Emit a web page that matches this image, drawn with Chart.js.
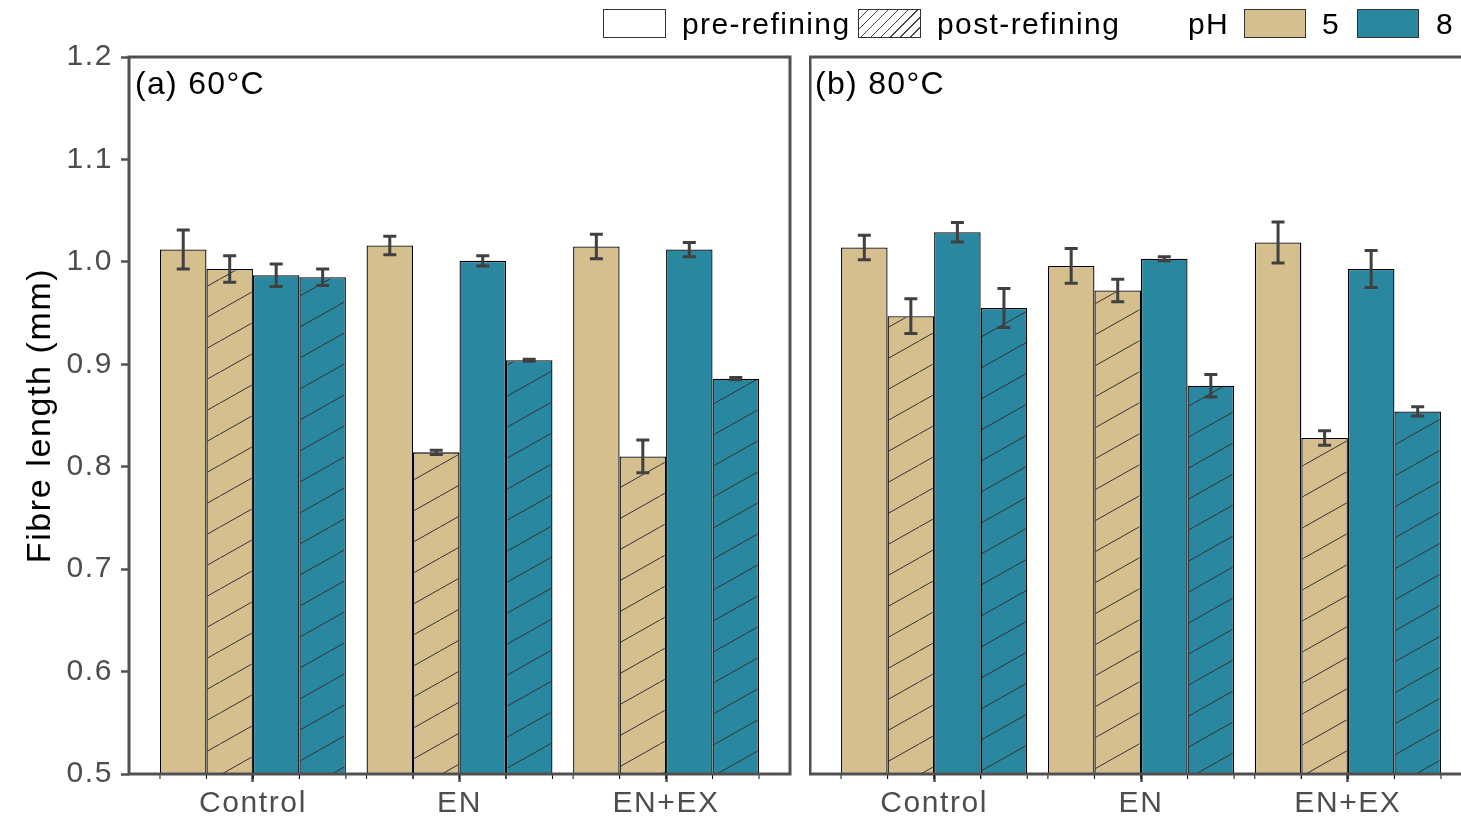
<!DOCTYPE html>
<html>
<head>
<meta charset="utf-8">
<script src="https://cdn.jsdelivr.net/npm/chart.js@4.4.1/dist/chart.umd.min.js"></script>
<style>
  html, body { margin: 0; padding: 0; width: 1461px; height: 817px; overflow: hidden; background: #fff; }
  body { position: relative; font-family: "Liberation Sans", Arial, sans-serif; }
  #wa { position: absolute; left: 0; top: 0; width: 792px; height: 817px; }
  #wb { position: absolute; left: 809px; top: 0; width: 664px; height: 817px; }
  .lbl { position: absolute; font-size: 32px; color: #000; line-height: 1; white-space: nowrap; letter-spacing: 1.3px; }
  .leg { position: absolute; font-size: 30px; color: #000; line-height: 1; white-space: nowrap; top: 9px; letter-spacing: 1.4px; }
  .box { position: absolute; top: 9px; height: 29px; border: 1px solid #333; box-sizing: border-box; }
</style>
</head>
<body>
<div id="wa"><canvas id="ca" width="792" height="817"></canvas></div>
<div id="wb"><canvas id="cb" width="664" height="817"></canvas></div>

<div class="lbl" style="left:135px; top:67px;">(a) 60°C</div>
<div class="lbl" style="left:815px; top:67px;">(b) 80°C</div>

<div class="box" style="left:603px; width:63px; background:#fff;"></div>
<div class="leg" style="left:682px;">pre-refining</div>
<div class="box" style="left:858px; width:63px; background:repeating-linear-gradient(135deg, #fff 0px, #fff 6px, #444 6px, #444 7px);"></div>
<div class="leg" style="left:937px;">post-refining</div>
<div class="leg" style="left:1188px;">pH</div>
<div class="box" style="left:1244px; width:62px; background:#D5BF8E;"></div>
<div class="leg" style="left:1322px;">5</div>
<div class="box" style="left:1357px; width:62px; background:#2A87A0;"></div>
<div class="leg" style="left:1436px;">8</div>

<script>
// ---- data ----
const categories = ['Control', 'EN', 'EN+EX'];
const yTicks = [0.5, 0.6, 0.7, 0.8, 0.9, 1.0, 1.1, 1.2];

// (a) 60 °C
const pre5_60  = [1.012, 1.016, 1.015];
const post5_60 = [0.993, 0.814, 0.810];
const pre8_60  = [0.987, 1.001, 1.012];
const post8_60 = [0.985, 0.904, 0.886];
const pre5_60_err  = [0.019, 0.009, 0.012];
const post5_60_err = [0.013, 0.002, 0.016];
const pre8_60_err  = [0.011, 0.005, 0.007];
const post8_60_err = [0.008, 0.001, 0.001];

// (b) 80 °C
const pre5_80  = [1.014, 0.996, 1.019];
const post5_80 = [0.947, 0.972, 0.828];
const pre8_80  = [1.029, 1.003, 0.993];
const post8_80 = [0.955, 0.879, 0.854];
const pre5_80_err  = [0.012, 0.017, 0.020];
const post5_80_err = [0.017, 0.011, 0.007];
const pre8_80_err  = [0.0095, 0.002, 0.018];
const post8_80_err = [0.019, 0.011, 0.0045];

// ---- styles ----
const TAN = '#D5BF8E';
const TEAL = '#2A87A0';
const AXIS = '#505050';
const TICKTXT = '#4d4d4d';

Chart.defaults.font.family = '"Liberation Sans", Arial, sans-serif';
Chart.defaults.animation = false;

function hatch(color) {
  const w = 55, h = 31;
  const c = document.createElement('canvas');
  c.width = w; c.height = h;
  const g = c.getContext('2d');
  g.fillStyle = color; g.fillRect(0, 0, w, h);
  g.strokeStyle = '#333'; g.lineWidth = 1;
  g.beginPath();
  g.moveTo(-w, 2 * h); g.lineTo(2 * w, -h);
  g.stroke();
  return g.createPattern(c, 'repeat');
}

const toPts = arr => arr.map((v, i) => ({ x: i, y: v }));

function datasets(p5, q5, p8, q8, e1, e2, e3, e4) {
  const base = { borderColor: '#000', borderWidth: 1.3, borderSkipped: false, categoryPercentage: 0.9, barPercentage: 1.0 };
  return [
    Object.assign({ data: toPts(p5), errors: e1, backgroundColor: TAN }, base),
    Object.assign({ data: toPts(q5), errors: e2, backgroundColor: hatch(TAN) }, base),
    Object.assign({ data: toPts(p8), errors: e3, backgroundColor: TEAL }, base),
    Object.assign({ data: toPts(q8), errors: e4, backgroundColor: hatch(TEAL) }, base),
  ];
}

const errPlugin = {
  id: 'errbars',
  beforeDraw(chart) {
    chart.ctx.letterSpacing = '1.6px';
  },
  afterDatasetsDraw(chart) {
    const ctx = chart.ctx, ys = chart.scales.y;
    ctx.save();
    ctx.strokeStyle = '#404040'; ctx.lineWidth = 3; ctx.lineCap = 'butt';
    chart.data.datasets.forEach((ds, d) => {
      const meta = chart.getDatasetMeta(d);
      meta.data.forEach((el, i) => {
        const v = ds.data[i].y, e = ds.errors[i];
        const yt = ys.getPixelForValue(v + e), yb = ys.getPixelForValue(v - e);
        const x = el.x, hw = 6.5;
        ctx.beginPath();
        ctx.moveTo(x, yt); ctx.lineTo(x, yb);
        ctx.moveTo(x - hw, yt); ctx.lineTo(x + hw, yt);
        ctx.moveTo(x - hw, yb); ctx.lineTo(x + hw, yb);
        ctx.stroke();
      });
    });
    ctx.restore();
  },
  afterDraw(chart) {
    const ctx = chart.ctx, a = chart.chartArea;
    ctx.save();
    // small bar-outline stubs below the axis
    ctx.strokeStyle = '#111'; ctx.lineWidth = 1;
    chart.data.datasets.forEach((ds, d) => {
      chart.getDatasetMeta(d).data.forEach(el => {
        [el.x - el.width / 2, el.x + el.width / 2].forEach(xx => {
          ctx.beginPath(); ctx.moveTo(xx, a.bottom); ctx.lineTo(xx, a.bottom + 5); ctx.stroke();
        });
      });
    });
    ctx.strokeStyle = AXIS; ctx.lineWidth = 3;
    ctx.strokeRect(a.left, a.top, a.right - a.left, a.bottom - a.top);
    ctx.restore();
  }
};

function makeOptions(showY, padLeft, padRight) {
  return {
    responsive: false,
    maintainAspectRatio: false,
    layout: { padding: { top: 57, left: padLeft, right: padRight, bottom: 0 } },
    plugins: { legend: { display: false }, tooltip: { enabled: false } },
    scales: {
      x: {
        type: 'linear', min: -0.6, max: 2.6, offset: false,
        afterBuildTicks: s => { s.ticks = categories.map((c, i) => ({ value: i })); },
        afterFit: s => { s.height = 43; },
        ticks: { callback: v => categories[v] ?? '', autoSkip: false, maxRotation: 0, color: TICKTXT, font: { size: 30 }, padding: 4 },
        grid: { display: true, offset: false, drawOnChartArea: false, drawTicks: true, tickLength: 8, tickColor: AXIS, tickWidth: 2.5, color: AXIS },
        border: { display: false }
      },
      y: {
        display: showY,
        min: 0.5, max: 1.2,
        afterBuildTicks: s => { s.ticks = yTicks.map(v => ({ value: v })); },
        afterFit: s => { if (showY) s.width = 129; },
        ticks: { callback: v => v.toFixed(1), color: TICKTXT, font: { size: 30 }, padding: 8 },
        grid: { display: true, drawOnChartArea: false, drawTicks: true, tickLength: 8, tickColor: AXIS, tickWidth: 2.5, color: AXIS },
        border: { display: false },
        title: { display: showY, text: 'Fibre length (mm)', color: '#000', font: { size: 34 }, padding: { top: 20, bottom: 0 } }
      }
    }
  };
}

new Chart(document.getElementById('ca'), {
  type: 'bar',
  data: { datasets: datasets(pre5_60, post5_60, pre8_60, post8_60, pre5_60_err, post5_60_err, pre8_60_err, post8_60_err) },
  options: makeOptions(true, 0, 2),
  plugins: [errPlugin]
});

new Chart(document.getElementById('cb'), {
  type: 'bar',
  data: { datasets: datasets(pre5_80, post5_80, pre8_80, post8_80, pre5_80_err, post5_80_err, pre8_80_err, post8_80_err) },
  options: makeOptions(false, 1, 1),
  plugins: [errPlugin]
});
</script>
</body>
</html>
